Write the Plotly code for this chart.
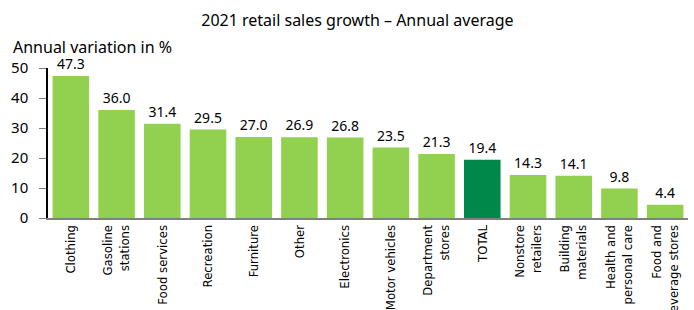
import plotly.graph_objects as go

categories = ["Clothing", "Gasoline<br>stations", "Food services", "Recreation", "Furniture",
              "Other", "Electronics", "Motor vehicles", "Department<br>stores", "TOTAL",
              "Nonstore<br>retailers", "Building<br>materials", "Health and<br>personal care",
              "Food and<br>beverage stores"]
values = [47.3, 36.0, 31.4, 29.5, 27.0, 26.9, 26.8, 23.5, 21.3, 19.4, 14.3, 14.1, 9.8, 4.4]
LIGHT = "#92D050"
DARK = "#00884A"
colors = [DARK if c == "TOTAL" else LIGHT for c in categories]

fig = go.Figure(go.Bar(
    x=categories, y=values, marker=dict(color=colors, line=dict(width=0)),
    text=[f"{v:.1f}" for v in values], textposition="outside",
    textfont=dict(size=14, color="#000000", family="Noto Sans"),
    cliponaxis=False,
))

fig.update_layout(
    width=694, height=310,
    margin=dict(l=48, r=6, t=68, b=92, autoexpand=False),
    paper_bgcolor="white", plot_bgcolor="white",
    bargap=0.2,
    showlegend=False,
    font=dict(family="Noto Sans", color="#000000"),
    title=dict(text="2021 retail sales growth – Annual average", x=0.515, xanchor="center",
               y=0.935, yanchor="middle", font=dict(size=16)),
    annotations=[dict(text="Annual variation in %", xref="paper", yref="paper",
                      x=-0.058, y=1.14, xanchor="left", yanchor="middle",
                      showarrow=False, font=dict(size=16))],
    xaxis=dict(tickangle=-90, automargin=False,
               tickfont=dict(size=13, family="DejaVu Sans Condensed, Arial Narrow, sans-serif"),
               showline=True, linecolor="#808080", linewidth=1.5, ticks="",
               showgrid=False),
    yaxis=dict(range=[0, 50], dtick=10, showgrid=False, zeroline=False, automargin=False,
               showline=True, linecolor="#000000", linewidth=1.5,
               ticks="outside", ticklen=7, tickcolor="#808080", ticklabelstandoff=8,
               tickfont=dict(size=15)),
)

fig.write_html("out.html", config={"displayModeBar": False},
               post_script="document.body.style.margin='0';document.body.style.overflow='hidden';")
